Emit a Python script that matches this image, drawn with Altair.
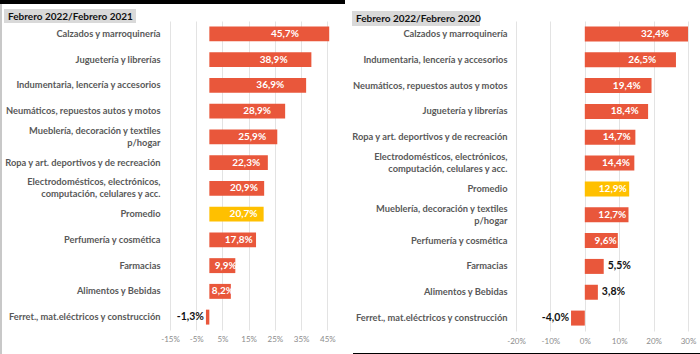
import altair as alt
import pandas as pd

FONT = "Lato"

cats_21 = [
    "Calzados y marroquinería",
    "Juguetería y librerías",
    "Indumentaria, lencería y accesorios",
    "Neumáticos, repuestos autos y motos",
    "Mueblería, decoración y textiles\np/hogar",
    "Ropa y art. deportivos y de recreación",
    "Electrodomésticos, electrónicos,\ncomputación, celulares y acc.",
    "Promedio",
    "Perfumería y cosmética",
    "Farmacias",
    "Alimentos y Bebidas",
    "Ferret., mat.eléctricos y construcción",
]
vals_21 = [45.7, 38.9, 36.9, 28.9, 25.9, 22.3, 20.9, 20.7, 17.8, 9.9, 8.2, -1.3]

cats_20 = [
    "Calzados y marroquinería",
    "Indumentaria, lencería y accesorios",
    "Neumáticos, repuestos autos y motos",
    "Juguetería y librerías",
    "Ropa y art. deportivos y de recreación",
    "Electrodomésticos, electrónicos,\ncomputación, celulares y acc.",
    "Promedio",
    "Mueblería, decoración y textiles\np/hogar",
    "Perfumería y cosmética",
    "Farmacias",
    "Alimentos y Bebidas",
    "Ferret., mat.eléctricos y construcción",
]
vals_20 = [32.4, 26.5, 19.4, 18.4, 14.7, 14.4, 12.9, 12.7, 9.6, 5.5, 3.8, -4.0]

ticks_21 = [-15, -5, 5, 15, 25, 35, 45]
ticks_20 = [-20, -10, 0, 10, 20, 30]

title_21 = "Febrero 2022/Febrero 2021"
title_20 = "Febrero 2022/Febrero 2020"

ORANGE = "#E9573B"
YELLOW = "#FFC000"


def deco_rect(color, x, x2, y, y2):
    return alt.Chart(alt.Data(values=[{"a": 1}])).mark_rect(color=color).encode(
        x=alt.value(x), x2=alt.value(x2), y=alt.value(y), y2=alt.value(y2)
    )


def panel(cats, vals, ticks, dom, title, W, H, lab_pad, xlab_pad, decos, title_xy):
    df = pd.DataFrame({"cat": cats, "v": vals})
    base = alt.Chart(df).transform_calculate(
        lbl="replace(replace(format(datum.v, '.1f'), '.', ','), '\u2212', '-') + '%'"
    )

    def X(field):
        return alt.X(
            field,
            scale=alt.Scale(domain=dom, nice=False, zero=False),
            axis=alt.Axis(
                values=ticks,
                labelExpr="datum.value + '%'",
                labelFlush=False,
                grid=True,
                gridColor="#e3e3e3",
                domain=False,
                ticks=False,
                labelColor="#8c8c8c",
                labelFontSize=8,
                labelFont=FONT,
                labelPadding=xlab_pad,
                title=None,
            ),
        )

    Y = alt.Y(
        "cat:N",
        sort=cats,
        scale=alt.Scale(paddingInner=0.42, paddingOuter=0.21),
        axis=alt.Axis(
            title=None,
            domain=False,
            ticks=False,
            grid=False,
            labelExpr="split(datum.label, '\\n')",
            labelOffset={"condition": {"test": "indexof(datum.value, '\\n') >= 0", "value": -6}, "value": 0},
            labelFont=FONT,
            labelFontSize=9.3,
            labelFontWeight="bold",
            labelColor="#595959",
            labelPadding=lab_pad,
            labelLimit=200,
            labelLineHeight=12,
        ),
    )

    bars = base.mark_bar(clip=True).encode(
        x=X("v:Q"),
        y=Y,
        color=alt.condition(
            alt.datum.cat == "Promedio", alt.value(YELLOW), alt.value(ORANGE)
        ),
    )
    inside = (
        base.transform_filter("datum.v >= 8")
        .transform_calculate(lx="datum.v * 0.63")
        .mark_text(font=FONT, fontSize=10, fontWeight="bold", color="white",
                   align="center", baseline="middle")
        .encode(x=X("lx:Q"), y=Y, text="lbl:N")
    )
    out_pos = (
        base.transform_filter("datum.v > 0 && datum.v < 8")
        .mark_text(font=FONT, fontSize=10.5, fontWeight="bold", color="#111111",
                   align="left", baseline="middle", dx=4)
        .encode(x=X("v:Q"), y=Y, text="lbl:N")
    )
    out_neg = (
        base.transform_filter("datum.v < 0")
        .mark_text(font=FONT, fontSize=10.5, fontWeight="bold", color="#111111",
                   align="right", baseline="middle", dx=-2)
        .encode(x=X("v:Q"), y=Y, text="lbl:N")
    )

    tx, tx2, ty, ty2 = title_xy
    title_bg = deco_rect("#d9d9d9", tx, tx2, ty, ty2)
    title_txt = alt.Chart(alt.Data(values=[{"a": 1}])).mark_text(
        font=FONT, fontSize=10, fontWeight="bold", color="#111111",
        align="left", baseline="middle",
    ).encode(x=alt.value(tx + 4), y=alt.value((ty + ty2) / 2 + 0.5), text=alt.value(title))

    layers = decos + [title_bg, title_txt, bars, inside, out_pos, out_neg]
    return alt.layer(*layers).properties(width=W, height=H)


# Left panel: plot area at x 170..330, y 21..330
W1, H1 = 160, 309
left = panel(
    cats_21, vals_21, ticks_21, [-15, 46], title_21, W1, H1, 10, 5,
    [
        deco_rect("black", -170, 175, -21, -17),
        deco_rect("#c8c8c8", -170, -168, -17, H1 + 24),
    ],
    (-166, -34, -12, 2),
)

# Right panel: plot area at x 516..688, y 17..327
W2, H2 = 172, 310
right = panel(
    cats_20, vals_20, ticks_20, [-20, 30], title_20, W2, H2, 9, 6,
    [
        deco_rect("white", -166, -165, -17, -16),
        deco_rect("black", -163, W2 + 12, H2 + 22, H2 + 27),
    ],
    (-164, -36, -10, 5),
)

chart = (
    alt.hconcat(left, right, spacing=5)
    .configure(padding=0, background="white")
    .configure_view(stroke=None)
)

chart.save("out.html", embed_options={"renderer": "svg", "actions": False})
